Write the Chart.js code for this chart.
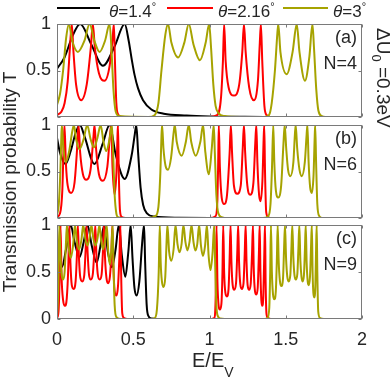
<!DOCTYPE html>
<html>
<head>
<meta charset="utf-8">
<script src="https://cdn.jsdelivr.net/npm/chart.js@4.4.1/dist/chart.umd.min.js"></script>
<style>
body { margin: 0; background: #fff; }
#wrap { position: relative; width: 392px; height: 379px; overflow: hidden; font-family: "Liberation Sans", Arial, sans-serif; color: #262626; }
canvas { position: absolute; left: 0; top: 0; }
.txt { position: absolute; white-space: nowrap; }
.leg { position: absolute; top: 3px; font-size: 17px; line-height: 17px; white-space: nowrap; }
.leg sup { font-size: 11px; vertical-align: 7px; line-height: 0; }
.swatch { position: absolute; top: 7px; height: 2px; }
.tag { position: absolute; right: 35px; font-size: 18px; line-height: 18px; text-align: right; }
</style>
</head>
<body>
<div id="wrap">
    <canvas id="painelA" width="392" height="379"></canvas>
    <canvas id="painelB" width="392" height="379"></canvas>
    <canvas id="painelC" width="392" height="379"></canvas>

    <!-- legenda -->
    <div class="swatch" style="left:57px; width:43px; background:#000000"></div>
    <div class="leg" style="left:109px"><i>θ</i>=1.4<sup>°</sup></div>
    <div class="swatch" style="left:167px; width:46px; background:#ff0000"></div>
    <div class="leg" style="left:218px"><i>θ</i>=2.16<sup>°</sup></div>
    <div class="swatch" style="left:283px; width:45px; background:#a6a300"></div>
    <div class="leg" style="left:333px"><i>θ</i>=3<sup>°</sup></div>

    <div class="tag" style="top:28px">(a)</div>
    <div class="tag" style="top:54px">N=4</div>
    <div class="tag" style="top:129px">(b)</div>
    <div class="tag" style="top:155px">N=6</div>
    <div class="tag" style="top:229px">(c)</div>
    <div class="tag" style="top:255px">N=9</div>

    <div class="txt" style="left:-120px; top:173px; width:260px; text-align:center; font-size:19px; line-height:18px; transform:rotate(-90deg);">Transmission probability T</div>
    <div class="txt" style="left:192px; top:350px; font-size:20px; line-height:20px;">E/E<span style="font-size:14px; vertical-align:-10px; line-height:0">V</span></div>
    <div class="txt" style="left:393px; top:28px; font-size:19px; line-height:20px; transform-origin:0 0; transform:rotate(90deg);">ΔU<span style="font-size:13px; vertical-align:-5px; line-height:0">0</span> =0.3eV</div>
</div>

<script>
const xTicks = [0, 0.5, 1, 1.5, 2];
const yTicks = [0, 0.5, 1];
const labels = ["θ=1.4°", "θ=2.16°", "θ=3°"];
const colors = ["#000000", "#ff0000", "#a6a300"];

// (a) N=4  -> pontos [E/Ev, T]
const n4Black = [[0,0.52],[0.049,0.64],[0.104,0.88],[0.152,1],[0.225,0.78],[0.301,0.55],[0.378,0.76],[0.444,1],[0.47,0.82],[0.49,0.62],[0.509,0.45],[0.531,0.31],[0.564,0.18],[0.619,0.08],[0.70,0.035],[0.85,0.015],[1.0,0.006],[1.2,0.002],[1.36,0],[2,0]];
const n4Red = [[0,0.02],[0.03,0.06],[0.05,0.15],[0.07,0.38],[0.085,0.75],[0.097,1],[0.108,0.7],[0.125,0.35],[0.159,0.18],[0.195,0.35],[0.222,0.75],[0.235,1],[0.248,0.75],[0.275,0.47],[0.312,0.39],[0.345,0.55],[0.365,0.85],[0.373,1],[0.38,0.6],[0.389,0.15],[0.40,0.03],[0.42,0],[1.0,0],[1.05,0.02],[1.075,0.2],[1.088,0.6],[1.096,1],[1.106,0.6],[1.125,0.32],[1.16,0.23],[1.195,0.35],[1.215,0.7],[1.226,1],[1.237,0.7],[1.26,0.32],[1.291,0.18],[1.318,0.4],[1.33,0.8],[1.337,1],[1.346,0.6],[1.36,0.12],[1.375,0.02],[1.40,0],[2,0]];
const n4Olive = [[0,0.13],[0.02,0.25],[0.04,0.5],[0.06,0.85],[0.078,1],[0.1,0.82],[0.137,0.70],[0.18,0.82],[0.214,1],[0.245,0.82],[0.279,0.70],[0.315,0.82],[0.345,1],[0.358,0.7],[0.37,0.3],[0.385,0.06],[0.41,0.01],[0.6,0],[0.64,0.02],[0.665,0.15],[0.685,0.5],[0.71,0.88],[0.728,1],[0.75,0.8],[0.794,0.64],[0.835,0.8],[0.864,1],[0.895,0.78],[0.937,0.61],[0.975,0.8],[0.998,1],[1.01,0.75],[1.025,0.35],[1.04,0.12],[1.06,0.04],[1.10,0.01],[1.2,0],[1.36,0],[1.39,0.02],[1.408,0.15],[1.429,0.5],[1.445,0.9],[1.451,1],[1.465,0.7],[1.506,0.46],[1.545,0.7],[1.572,1],[1.59,0.7],[1.626,0.39],[1.655,0.65],[1.675,1],[1.685,0.75],[1.70,0.3],[1.714,0.07],[1.736,0.01],[1.76,0],[2,0]];

// (b) N=6
const n6Black = [[0,0.86],[0.02,0.7],[0.055,0.58],[0.09,0.72],[0.125,0.93],[0.15,1],[0.18,0.88],[0.246,0.58],[0.3,0.8],[0.345,1],[0.385,0.68],[0.444,0.42],[0.49,0.68],[0.51,0.9],[0.52,1],[0.532,0.7],[0.548,0.33],[0.565,0.14],[0.59,0.05],[0.64,0.015],[0.8,0.003],[1,0],[2,0]];
const n6Red = [[0,0.01],[0.02,0.05],[0.035,0.3],[0.043,0.75],[0.049,1],[0.058,0.6],[0.07,0.35],[0.093,0.27],[0.115,0.38],[0.132,0.75],[0.141,1],[0.152,0.7],[0.17,0.47],[0.192,0.41],[0.22,0.52],[0.238,0.85],[0.246,1],[0.256,0.75],[0.275,0.47],[0.301,0.40],[0.33,0.55],[0.348,0.9],[0.356,1],[0.364,0.55],[0.378,0.25],[0.39,0.5],[0.397,0.9],[0.400,1],[0.405,0.5],[0.413,0.08],[0.425,0.01],[0.45,0],[1.0,0],[1.04,0.02],[1.052,0.2],[1.057,0.6],[1.061,1],[1.068,0.55],[1.08,0.22],[1.096,0.15],[1.115,0.25],[1.132,0.7],[1.140,1],[1.148,0.7],[1.16,0.35],[1.182,0.26],[1.205,0.35],[1.218,0.75],[1.226,1],[1.234,0.7],[1.248,0.35],[1.267,0.25],[1.288,0.38],[1.30,0.8],[1.307,1],[1.314,0.6],[1.325,0.25],[1.335,0.18],[1.347,0.4],[1.355,0.85],[1.359,1],[1.364,0.5],[1.372,0.06],[1.385,0.01],[1.4,0],[2,0]];
const n6Olive = [[0,0.03],[0.012,0.15],[0.022,0.5],[0.028,0.85],[0.032,1],[0.042,0.75],[0.058,0.6],[0.08,0.72],[0.1,0.93],[0.111,1],[0.125,0.85],[0.148,0.74],[0.175,0.85],[0.198,1],[0.22,0.85],[0.242,0.76],[0.265,0.86],[0.286,1],[0.305,0.82],[0.323,0.72],[0.345,0.85],[0.360,1],[0.368,0.7],[0.378,0.25],[0.389,0.05],[0.40,0.01],[0.45,0],[0.6,0],[0.645,0.02],[0.665,0.12],[0.678,0.5],[0.685,0.88],[0.689,1],[0.698,0.75],[0.712,0.56],[0.728,0.52],[0.748,0.65],[0.765,0.92],[0.772,1],[0.785,0.82],[0.818,0.67],[0.845,0.82],[0.864,1],[0.88,0.82],[0.910,0.67],[0.94,0.82],[0.958,1],[0.972,0.72],[0.996,0.47],[1.015,0.75],[1.028,1],[1.035,0.7],[1.045,0.25],[1.058,0.05],[1.08,0.01],[1.12,0],[1.35,0],[1.385,0.02],[1.40,0.15],[1.41,0.55],[1.418,1],[1.425,0.6],[1.435,0.3],[1.451,0.22],[1.47,0.35],[1.485,0.8],[1.493,1],[1.503,0.75],[1.515,0.52],[1.530,0.45],[1.55,0.6],[1.56,0.9],[1.565,1],[1.575,0.75],[1.59,0.52],[1.605,0.45],[1.625,0.6],[1.637,0.9],[1.642,1],[1.65,0.6],[1.66,0.33],[1.671,0.27],[1.682,0.45],[1.69,0.88],[1.693,1],[1.699,0.6],[1.707,0.15],[1.72,0.02],[1.74,0],[2,0]];

// (c) N=9
const n9Black = [[0,0.72],[0.015,0.62],[0.032,0.55],[0.06,0.75],[0.09,1],[0.115,0.82],[0.148,0.66],[0.175,0.82],[0.2,1],[0.228,0.78],[0.26,0.60],[0.285,0.78],[0.31,1],[0.333,0.72],[0.36,0.55],[0.385,0.75],[0.405,1],[0.425,0.68],[0.448,0.45],[0.468,0.72],[0.483,1],[0.495,0.65],[0.508,0.33],[0.522,0.25],[0.54,0.4],[0.558,0.8],[0.571,1],[0.578,0.6],[0.588,0.15],[0.60,0.03],[0.62,0.005],[0.65,0],[2,0]];
const n9Red = [[0,0.01],[0.01,0.08],[0.018,0.5],[0.023,1],[0.03,0.45],[0.04,0.2],[0.052,0.14],[0.064,0.22],[0.074,0.55],[0.081,1],[0.088,0.6],[0.097,0.36],[0.109,0.32],[0.122,0.4],[0.131,0.7],[0.137,1],[0.144,0.65],[0.153,0.44],[0.166,0.40],[0.179,0.47],[0.188,0.75],[0.194,1],[0.201,0.7],[0.21,0.47],[0.222,0.42],[0.235,0.48],[0.245,0.75],[0.251,1],[0.258,0.7],[0.267,0.48],[0.280,0.42],[0.293,0.48],[0.302,0.75],[0.308,1],[0.315,0.65],[0.324,0.44],[0.335,0.38],[0.347,0.45],[0.357,0.72],[0.363,1],[0.37,0.55],[0.378,0.3],[0.390,0.25],[0.40,0.35],[0.41,0.7],[0.416,1],[0.421,0.45],[0.428,0.06],[0.44,0.01],[0.46,0],[1.0,0],[1.03,0.01],[1.04,0.2],[1.046,1],[1.052,0.4],[1.06,0.14],[1.068,0.10],[1.078,0.16],[1.085,0.5],[1.090,1],[1.096,0.5],[1.104,0.28],[1.114,0.24],[1.125,0.32],[1.132,0.65],[1.138,1],[1.144,0.6],[1.152,0.36],[1.162,0.31],[1.174,0.38],[1.182,0.7],[1.188,1],[1.194,0.6],[1.202,0.37],[1.212,0.32],[1.223,0.38],[1.231,0.7],[1.237,1],[1.243,0.6],[1.25,0.36],[1.26,0.31],[1.27,0.37],[1.279,0.7],[1.285,1],[1.29,0.55],[1.298,0.3],[1.307,0.26],[1.316,0.33],[1.324,0.7],[1.329,1],[1.334,0.5],[1.34,0.2],[1.346,0.14],[1.353,0.25],[1.36,0.75],[1.364,1],[1.368,0.4],[1.374,0.05],[1.385,0.01],[1.4,0],[2,0]];
const n9Olive = [[0,0.02],[0.008,0.3],[0.015,1],[0.022,0.7],[0.03,0.48],[0.040,0.42],[0.05,0.5],[0.058,0.78],[0.065,1],[0.075,0.78],[0.091,0.65],[0.105,0.78],[0.118,1],[0.13,0.83],[0.145,0.74],[0.16,0.84],[0.172,1],[0.185,0.86],[0.199,0.78],[0.213,0.86],[0.226,1],[0.238,0.86],[0.252,0.78],[0.266,0.86],[0.278,1],[0.29,0.83],[0.302,0.74],[0.315,0.84],[0.326,1],[0.336,0.72],[0.346,0.58],[0.356,0.72],[0.365,1],[0.37,0.6],[0.378,0.15],[0.39,0.02],[0.42,0],[0.6,0],[0.64,0.01],[0.655,0.1],[0.667,0.5],[0.674,1],[0.68,0.6],[0.688,0.4],[0.699,0.34],[0.71,0.45],[0.718,0.8],[0.724,1],[0.735,0.72],[0.750,0.62],[0.765,0.75],[0.777,1],[0.79,0.8],[0.803,0.71],[0.817,0.8],[0.829,1],[0.842,0.82],[0.855,0.73],[0.869,0.82],[0.882,1],[0.895,0.82],[0.907,0.73],[0.92,0.8],[0.932,1],[0.944,0.78],[0.957,0.67],[0.971,0.78],[0.983,1],[0.994,0.68],[1.007,0.52],[1.02,0.7],[1.031,1],[1.037,0.6],[1.045,0.15],[1.055,0.03],[1.07,0.005],[1.1,0],[1.35,0],[1.38,0.01],[1.392,0.12],[1.398,0.5],[1.403,1],[1.409,0.5],[1.416,0.27],[1.425,0.21],[1.435,0.3],[1.442,0.65],[1.447,1],[1.454,0.6],[1.462,0.4],[1.471,0.35],[1.482,0.43],[1.489,0.75],[1.495,1],[1.502,0.65],[1.51,0.45],[1.519,0.40],[1.53,0.47],[1.537,0.75],[1.543,1],[1.55,0.65],[1.557,0.47],[1.566,0.42],[1.576,0.48],[1.583,0.75],[1.589,1],[1.596,0.62],[1.603,0.45],[1.610,0.40],[1.619,0.46],[1.626,0.75],[1.631,1],[1.637,0.6],[1.644,0.4],[1.651,0.36],[1.659,0.45],[1.666,0.78],[1.671,1],[1.676,0.5],[1.681,0.28],[1.687,0.23],[1.694,0.35],[1.699,0.75],[1.703,1],[1.707,0.5],[1.713,0.08],[1.725,0.01],[1.75,0],[2,0]];

Chart.defaults.font.family = "'Liberation Sans', Arial, sans-serif";
Chart.defaults.font.size = 18;
Chart.defaults.color = "#262626";

//moldura do eixo com ticks para dentro (estilo matlab)
const boxPlugin = {
    id: "box",
    afterDraw(chart) {
        const {ctx, chartArea: a, scales} = chart;
        const l = Math.round(a.left) + 0.5, r = Math.round(a.right) - 0.5;
        const t = Math.round(a.top) + 0.5, b = Math.round(a.bottom) - 0.5;
        ctx.save();
        ctx.strokeStyle = "#7a7a7a";
        ctx.lineWidth = 1;
        ctx.strokeRect(l, t, r - l, b - t);
        ctx.beginPath();
        for (let v of xTicks) {
            const px = Math.round(scales.x.getPixelForValue(v)) + 0.5;
            ctx.moveTo(px, b); ctx.lineTo(px, b - 3);
            ctx.moveTo(px, t); ctx.lineTo(px, t + 3);
        }
        for (let v of yTicks) {
            const py = Math.round(scales.y.getPixelForValue(v)) + 0.5;
            ctx.moveTo(l, py); ctx.lineTo(l + 3, py);
            ctx.moveTo(r, py); ctx.lineTo(r - 3, py);
        }
        ctx.stroke();
        ctx.restore();
    }
};

function makePanel(id, top, bottom, showX, lines) {
    const ctx = document.getElementById(id).getContext("2d");
    const xHeight = showX ? 30 : 0; //altura dos rotulos do eixo x
    return new Chart(ctx, {
        type: "line",
        data: {
            datasets: lines.map((pts, i) => ({
                label: labels[i],
                data: pts,
                borderColor: colors[i],
                borderWidth: 2,
                pointRadius: 0,
                cubicInterpolationMode: "monotone",
                order: 2 - i
            }))
        },
        options: {
            responsive: false,
            animation: false,
            events: [],
            layout: { padding: { top: top, bottom: 379 - bottom - xHeight, left: 0, right: 30 } },
            plugins: { legend: { display: false }, tooltip: { enabled: false } },
            scales: {
                x: {
                    type: "linear", min: 0, max: 2,
                    afterBuildTicks: s => { s.ticks = xTicks.map(v => ({ value: v })); },
                    afterFit: s => { s.height = xHeight; },
                    grid: { display: false, drawTicks: false },
                    border: { display: false },
                    ticks: { display: showX, padding: 10, maxRotation: 0, autoSkip: false, callback: v => String(v) }
                },
                y: {
                    type: "linear", min: 0, max: 1,
                    afterBuildTicks: s => { s.ticks = yTicks.map(v => ({ value: v })); },
                    afterFit: s => { s.width = 57; },
                    grid: { display: false, drawTicks: false },
                    border: { display: false },
                    ticks: { padding: 6, callback: v => (!showX && v === 0) ? "" : String(v) }
                }
            }
        },
        plugins: [boxPlugin]
    });
}

makePanel("painelA", 24, 117, false, [n4Black, n4Red, n4Olive]);
makePanel("painelB", 125, 218, false, [n6Black, n6Red, n6Olive]);
makePanel("painelC", 225, 319, true, [n9Black, n9Red, n9Olive]);
</script>
</body>
</html>
